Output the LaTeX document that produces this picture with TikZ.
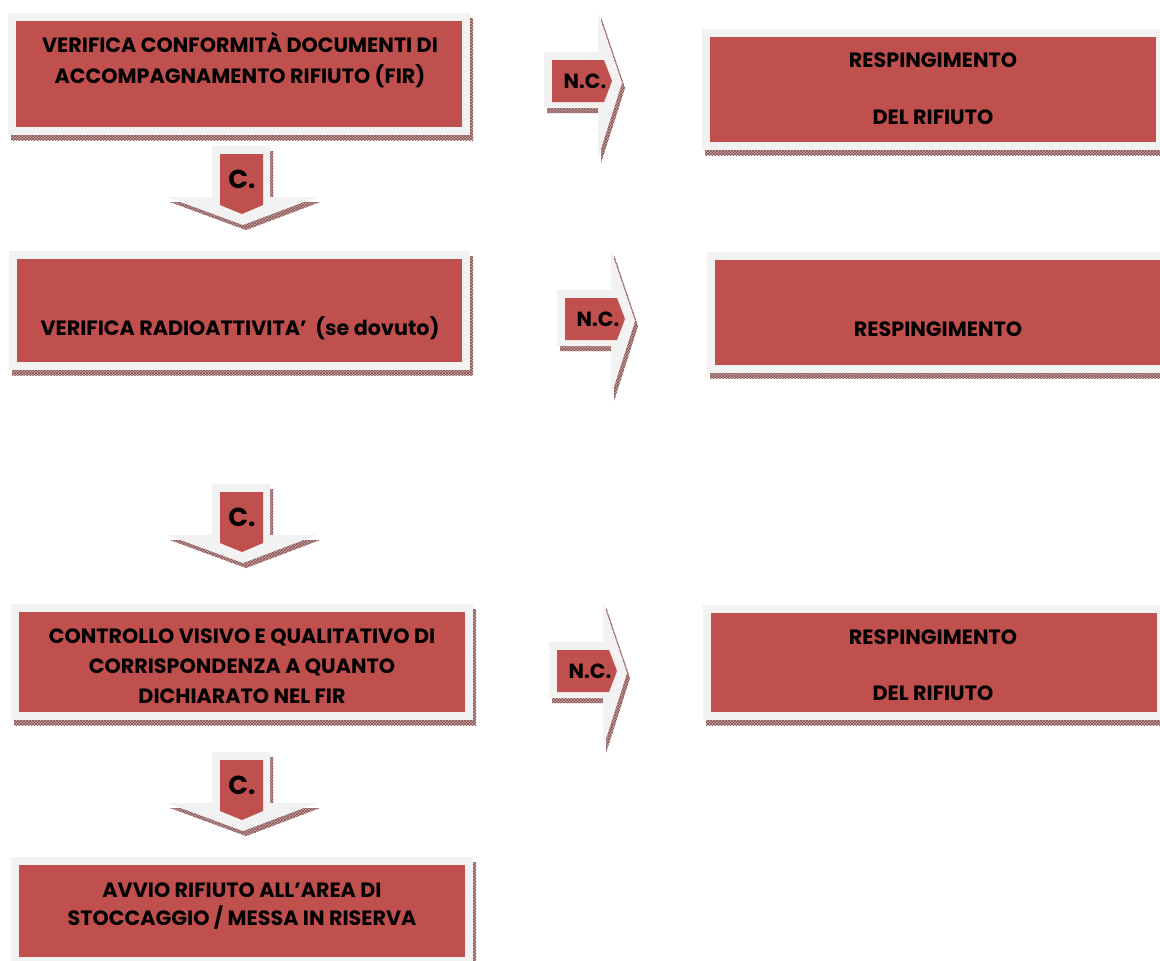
\documentclass[tikz,border=0pt]{standalone}
\usepackage{fontspec}
\setmainfont{Poppins}
\usetikzlibrary{patterns,backgrounds}
\definecolor{boxred}{HTML}{C0504D}
\definecolor{framegray}{HTML}{F2F2F2}
\definecolor{shbase}{RGB}{200,165,165}
\definecolor{shdark}{RGB}{135,80,80}
\tikzset{
  box/.style={draw=framegray, line width=8pt, fill=boxred, inner sep=0pt, outer sep=0pt},
  boxtext/.style={font=\fontsize{20.7}{24}\selectfont\bfseries, text=black, inner sep=0pt, text height=14.4pt, text depth=0pt},
  shadowfill/.style={preaction={fill=shbase}, pattern=crosshatch, pattern color=shdark},
  arrgray/.style={fill=framegray},
  arrred/.style={fill=boxred},
  clabel/.style={font=\fontsize{26}{30}\selectfont\bfseries, inner sep=0pt, text height=18pt, text depth=0pt},
  nclabel/.style={font=\fontsize{20.5}{24}\selectfont\bfseries, inner sep=0pt, text height=14.3pt, text depth=0pt},
}
\newcommand\mkbox[5]{%
  \node[box, minimum width={#4-#2-8}, minimum height={#5-#3-8}] (#1) at ({(#2+#4)/2},{(#3+#5)/2}) {};
  \begin{pgfonlayer}{background}
    \fill[shadowfill] ([shift={(-1,1)}]#1.north west) rectangle ([shift={(7,9)}]#1.south east);
  \end{pgfonlayer}}
\newcommand\downarr[3]{%
  \begin{scope}[shift={(#2,#3)}]
    \fill[shadowfill, shift={(3,5)}] (0,0) -- (58,0) -- (58,51) -- (105,51) -- (31,79) -- (-45,51) -- (0,51) -- cycle;
    \fill[arrgray] (0,0) -- (58,0) -- (58,51) -- (105,51) -- (31,79) -- (-45,51) -- (0,51) -- cycle;
    \fill[arrred] (8,8) -- (51,8) -- (51,59) -- (30,68) -- (8,59) -- cycle;
    \node[clabel] (#1) at (30,33) {C.};
  \end{scope}}
\newcommand\rightarr[3]{%
  \begin{scope}[shift={(#2,#3)}]
    \fill[shadowfill, shift={(3,5)}] (0,0) -- (54,0) -- (54,-40) -- (78,31) -- (54,106) -- (54,56) -- (0,56) -- cycle;
    \fill[arrgray] (0,0) -- (54,0) -- (54,-40) -- (78,31) -- (54,106) -- (54,56) -- (0,56) -- cycle;
    \fill[arrred] (8,8) -- (60,8) -- (68,29) -- (60,50) -- (8,50) -- cycle;
    \node[nclabel] (#1) at (41,29) {N.C.};
  \end{scope}}
\begin{document}
\begin{tikzpicture}[x=1pt,y=-1pt]
  \useasboundingbox (0,0) rectangle (1160,961);
  \clip (0,0) rectangle (1160,961);
  % boxes
  \mkbox{b1}{8}{13}{470}{135}
  \mkbox{b2}{9}{251}{470}{370}
  \mkbox{r1}{702}{29}{1164}{150}
  \mkbox{r2}{707}{252}{1172}{373}
  \mkbox{r3}{703}{605}{1165}{720}
  \mkbox{b4}{11}{604}{473}{720}
  \mkbox{b5}{11}{857}{473}{965}
  % arrows
  \downarr{c1}{212}{146}
  \downarr{c2}{212}{484}
  \downarr{c3}{212}{752}
  \rightarr{n1}{544}{52}
  \rightarr{n2}{557}{290}
  \rightarr{n3}{549}{642}
  % texts
  \node[boxtext] (t1a) at (240,45) {VERIFICA CONFORMITÀ DOCUMENTI DI};
  \node[boxtext] (t1b) at (240,76) {ACCOMPAGNAMENTO RIFIUTO (FIR)};
  \node[boxtext] (t2) at (240,328) {VERIFICA RADIOATTIVITA’\ \ (se dovuto)};
  \node[boxtext] (tr1a) at (933,60) {RESPINGIMENTO};
  \node[boxtext] (tr1b) at (933,117) {DEL RIFIUTO};
  \node[boxtext] (tr2) at (938,329) {RESPINGIMENTO};
  \node[boxtext] (tr3a) at (933,637) {RESPINGIMENTO};
  \node[boxtext] (tr3b) at (933,693) {DEL RIFIUTO};
  \node[boxtext] (t4a) at (242,636) {CONTROLLO VISIVO E QUALITATIVO DI};
  \node[boxtext] (t4b) at (242,666) {CORRISPONDENZA A QUANTO};
  \node[boxtext] (t4c) at (242,696) {DICHIARATO NEL FIR};
  \node[boxtext] (t5a) at (242,890) {AVVIO RIFIUTO ALL’AREA DI};
  \node[boxtext] (t5b) at (242,918) {STOCCAGGIO / MESSA IN RISERVA};
\end{tikzpicture}
\end{document}
